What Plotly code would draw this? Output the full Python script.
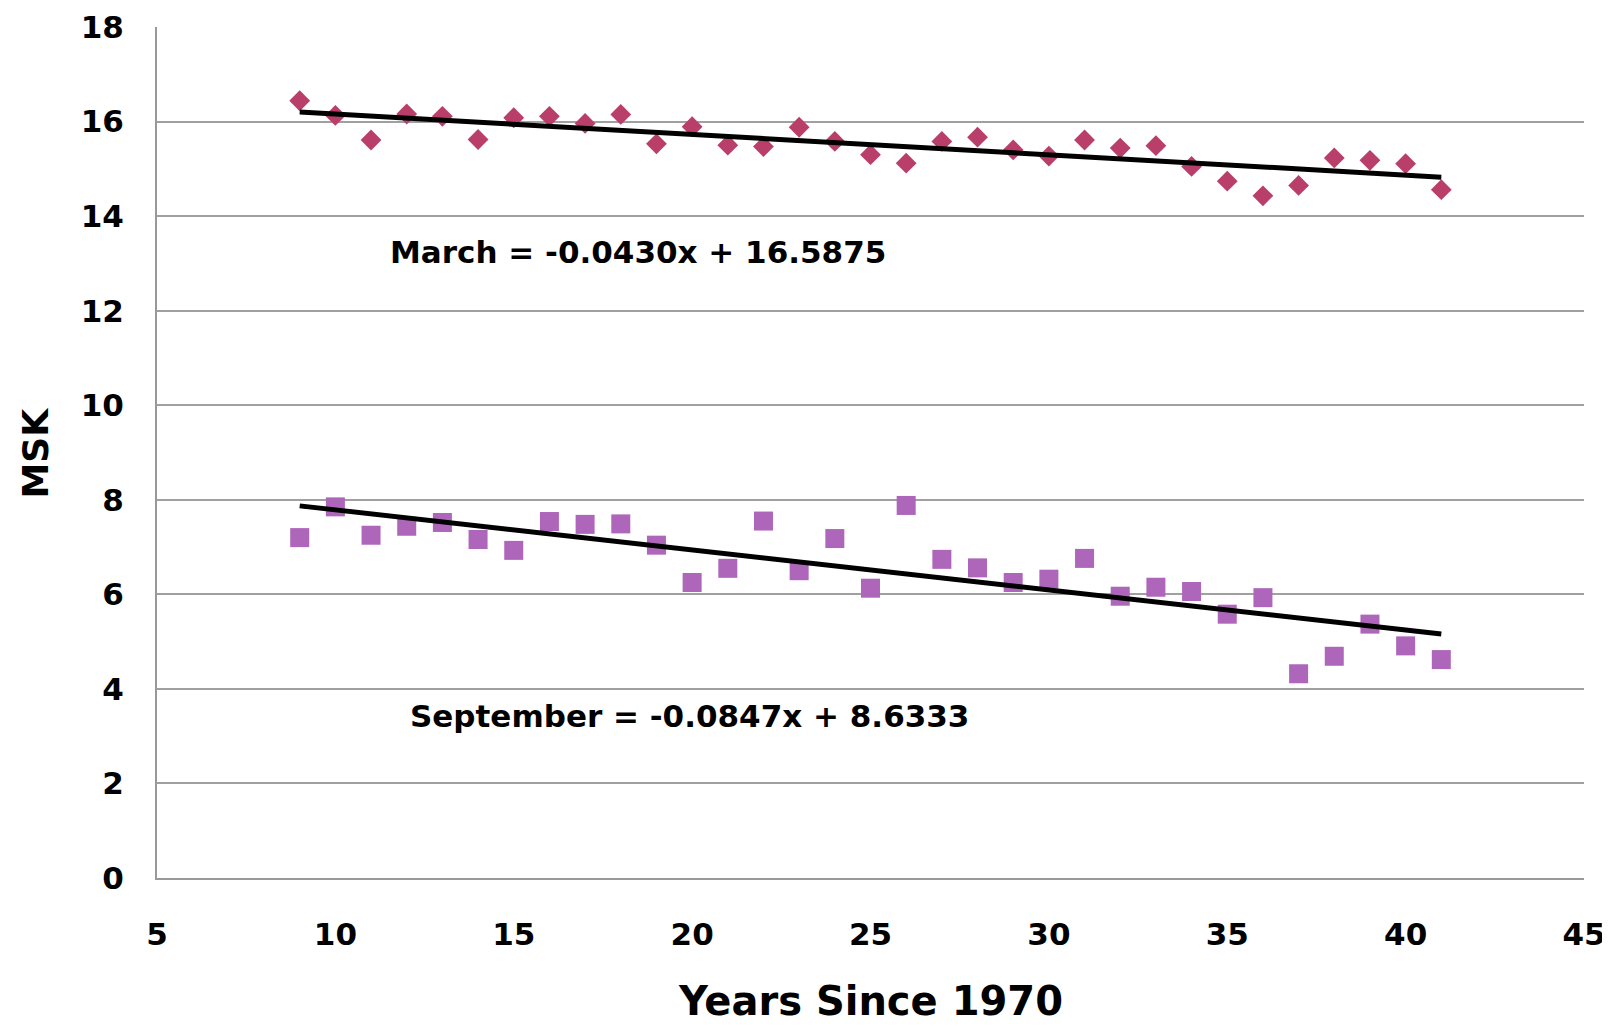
import plotly.graph_objects as go

years = list(range(9, 42))
march = [16.44, 16.13, 15.61, 16.16, 16.11, 15.62, 16.08, 16.11, 15.96, 16.15,
         15.53, 15.89, 15.50, 15.47, 15.88, 15.58, 15.30, 15.12, 15.58, 15.67,
         15.40, 15.27, 15.61, 15.44, 15.49, 15.05, 14.74, 14.43, 14.65, 15.23,
         15.18, 15.11, 14.56]
september = [7.20, 7.85, 7.25, 7.44, 7.52, 7.16, 6.93, 7.54, 7.48, 7.49,
             7.04, 6.25, 6.55, 7.55, 6.50, 7.18, 6.13, 7.88, 6.74, 6.56,
             6.25, 6.32, 6.76, 5.96, 6.15, 6.06, 5.58, 5.93, 4.32, 4.69,
             5.37, 4.91, 4.62]
march_fit = (-0.0430, 16.5875)
sept_fit = (-0.0847, 8.6333)
x_ticks = [5, 10, 15, 20, 25, 30, 35, 40, 45]
y_ticks = [0, 2, 4, 6, 8, 10, 12, 14, 16, 18]

fit_x = [years[0], years[-1]]

fig = go.Figure()
fig.add_trace(go.Scatter(x=years, y=march, mode="markers", name="March",
                         marker=dict(symbol="diamond", size=16, color="#B93E6A")))
fig.add_trace(go.Scatter(x=years, y=september, mode="markers", name="September",
                         marker=dict(symbol="square", size=19, color="#AE66BA")))
fig.add_trace(go.Scatter(x=fit_x, y=[march_fit[0] * v + march_fit[1] for v in fit_x],
                         mode="lines", line=dict(color="black", width=5), name="March fit"))
fig.add_trace(go.Scatter(x=fit_x, y=[sept_fit[0] * v + sept_fit[1] for v in fit_x],
                         mode="lines", line=dict(color="black", width=5), name="September fit"))

ytickfont = dict(family="DejaVu Sans", size=31, color="black", weight="bold")
xtickfont = dict(family="DejaVu Sans", size=31, color="black", weight="bold")
ann_font = dict(family="DejaVu Sans", size=31, color="black", weight="bold")
fig.update_layout(
    width=1610, height=1028,
    margin=dict(l=149, r=34, t=19, b=158),
    paper_bgcolor="white", plot_bgcolor="white",
    showlegend=False,
    xaxis=dict(range=[5, 45], tickvals=x_ticks, showgrid=False, zeroline=False,
               showline=True, linecolor="#999999", linewidth=2, automargin=False,
               tickfont=xtickfont, ticks="", ticklabelstandoff=28),
    yaxis=dict(range=[0, 18], tickvals=y_ticks, showgrid=True, gridcolor="#A0A0A0",
               gridwidth=2, zeroline=False, showline=True, linecolor="#999999",
               linewidth=2, automargin=False, tickfont=ytickfont, ticks="",
               ticklabelstandoff=25),
    annotations=[
        dict(text="March = -0.0430x + 16.5875", xref="x", yref="y", x=11.48, y=13.24,
             xanchor="left", yanchor="middle", showarrow=False, font=ann_font),
        dict(text="September = -0.0847x + 8.6333", xref="x", yref="y", x=12.04, y=3.42,
             xanchor="left", yanchor="middle", showarrow=False, font=ann_font),
        dict(text="MSK", xref="paper", yref="paper", x=-0.0848, y=0.5, textangle=-90,
             xanchor="center", yanchor="middle", showarrow=False,
             font=dict(family="DejaVu Sans", size=36, color="black", weight="bold")),
        dict(text="Years Since 1970", xref="paper", yref="paper", x=0.5, y=-0.1445,
             xanchor="center", yanchor="middle", showarrow=False,
             font=dict(family="DejaVu Sans", size=40, color="black", weight="bold")),
    ],
)

fig.write_html("out.html")
